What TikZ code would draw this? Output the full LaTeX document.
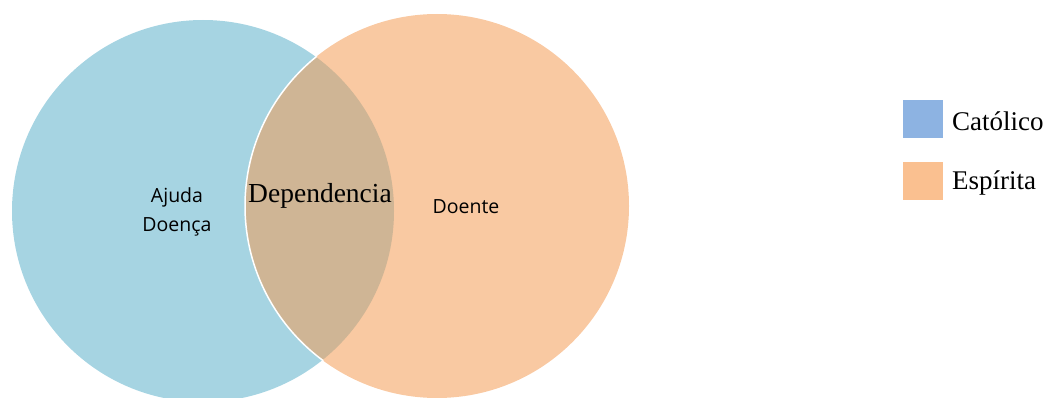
\documentclass[tikz,border=0pt]{standalone}
\usepackage{fontspec}
\setmainfont{Liberation Serif}
\newfontfamily\labelfont{Open Sans}
\definecolor{catblue}{HTML}{A6D4E2}
\definecolor{espor}{HTML}{F9C9A2}
\definecolor{overlapc}{HTML}{CFB595}
\definecolor{legblue}{HTML}{8DB3E2}
\definecolor{legor}{HTML}{FAC090}
\begin{document}
\begin{tikzpicture}[x=1pt,y=-1pt,
  setlabel/.style={font=\labelfont\fontsize{19.5}{29}\selectfont, text=black, align=center},
  legbox/.style={minimum width=40pt, minimum height=38pt, inner sep=0pt},
  legtext/.style={font=\fontsize{27}{30}\selectfont, anchor=west, inner sep=0pt}]
  \useasboundingbox (0,0) rectangle (1046,398);
  % two sets
  \fill[catblue] (203,211) circle (191);
  \fill[espor] (437,206) circle (192);
  \begin{scope}
    \clip (203,211) circle (191);
    \fill[overlapc] (437,206) circle (192);
  \end{scope}
  \begin{scope}
    \clip (203,211) circle (192);
    \draw[white, line width=1.5pt] (437,206) circle (192);
  \end{scope}
  % labels
  \node[setlabel] (ajuda) at (177,212) {Ajuda\\Doença};
  \node[font=\fontsize{27.5}{30}\selectfont] (dep) at (320,196) {Dependencia};
  \node[setlabel] (doente) at (466,207) {Doente};
  % legend
  \node[legbox, fill=legblue] (k1) at (923,119) {};
  \node[legtext] (t1) at (952,121) {Católico};
  \node[legbox, fill=legor] (k2) at (923,181) {};
  \node[legtext] (t2) at (952,183) {Espírita};
\end{tikzpicture}
\end{document}
